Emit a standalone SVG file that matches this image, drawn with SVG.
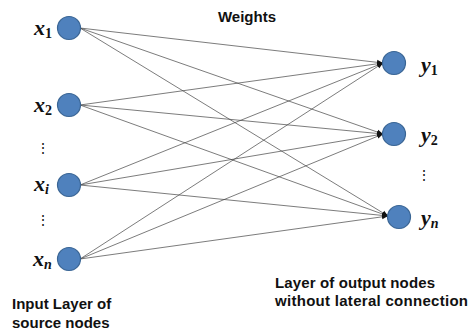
<svg xmlns="http://www.w3.org/2000/svg" width="471" height="332" viewBox="0 0 471 332">
<style>
.node{fill:#4F81BD;stroke:#3A6594;stroke-width:1.2}
.edge{stroke:#444;stroke-width:0.7;fill:none;marker-end:url(#ah)}
.var{font-family:"Liberation Serif",serif;font-weight:bold;font-style:italic;font-size:22px;fill:#111}
.sub{font-size:14px}
.subn{font-size:14px;font-style:normal}
.lab{font-family:"Liberation Sans",Arial,sans-serif;font-weight:bold;font-size:15px;fill:#111}
.dots{font-family:"Liberation Sans",sans-serif;font-size:14px;fill:#111}
</style>
<defs>
<marker id="ah" markerUnits="userSpaceOnUse" markerWidth="7" markerHeight="6" refX="6" refY="3" orient="auto">
<path d="M0,0.5 L6,3 L0,5.5 Z" fill="#111"/>
</marker>
</defs>
<g id="connectors">
<line class="edge" x1="80" y1="28" x2="383" y2="63"/>
<line class="edge" x1="80" y1="28" x2="383" y2="134"/>
<line class="edge" x1="80" y1="28" x2="388" y2="216"/>
<line class="edge" x1="80" y1="105" x2="383" y2="63"/>
<line class="edge" x1="80" y1="105" x2="383" y2="134"/>
<line class="edge" x1="80" y1="105" x2="388" y2="216"/>
<line class="edge" x1="80" y1="185" x2="383" y2="63"/>
<line class="edge" x1="80" y1="185" x2="383" y2="134"/>
<line class="edge" x1="80" y1="185" x2="388" y2="216"/>
<line class="edge" x1="80" y1="259" x2="383" y2="63"/>
<line class="edge" x1="80" y1="259" x2="383" y2="134"/>
<line class="edge" x1="80" y1="259" x2="388" y2="216"/>
</g>
<g id="x1"><circle class="node" cx="69" cy="28" r="11.5"/><text class="var" x="34" y="35">x<tspan class="subn" dy="3">1</tspan></text></g>
<g id="x2"><circle class="node" cx="69" cy="105" r="11.5"/><text class="var" x="34" y="112">x<tspan class="subn" dy="3">2</tspan></text></g>
<g id="xi"><circle class="node" cx="69" cy="185" r="11.5"/><text class="var" x="34" y="191">x<tspan class="sub" dy="3">i</tspan></text></g>
<g id="xn"><circle class="node" cx="69" cy="259" r="11.5"/><text class="var" x="33" y="266">x<tspan class="sub" dy="3">n</tspan></text></g>
<g id="y1"><circle class="node" cx="394" cy="63" r="11.5"/><text class="var" x="421" y="72">y<tspan class="subn" dy="3">1</tspan></text></g>
<g id="y2"><circle class="node" cx="394" cy="134" r="11.5"/><text class="var" x="421" y="142">y<tspan class="subn" dy="3">2</tspan></text></g>
<g id="yn"><circle class="node" cx="399" cy="217" r="11.5"/><text class="var" x="421" y="225">y<tspan class="sub" dy="3">n</tspan></text></g>
<text class="dots" x="43" y="153" text-anchor="middle">⋮</text>
<text class="dots" x="43" y="225" text-anchor="middle">⋮</text>
<text class="dots" x="424" y="180" text-anchor="middle">⋮</text>
<text class="lab" x="247" y="22" text-anchor="middle">Weights</text>
<text class="lab" x="12" y="309">Input Layer of</text>
<text class="lab" x="12" y="328">source nodes</text>
<text class="lab" x="275" y="288" textLength="160">Layer of output nodes</text>
<text class="lab" x="275" y="306" textLength="193">without lateral connection</text>
</svg>
